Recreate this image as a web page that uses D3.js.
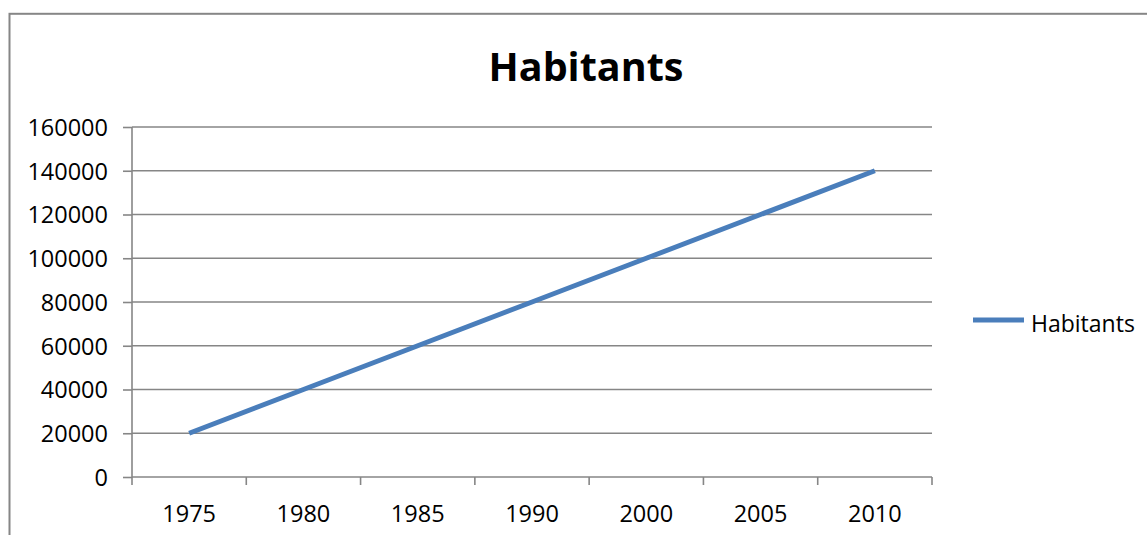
<!DOCTYPE html>
<html>
<head>
<meta charset="utf-8">
<script src="https://cdn.jsdelivr.net/npm/d3@7"></script>
<style>
  html, body { margin: 0; padding: 0; background: #fff; }
  svg { display: block; }
  text { font-family: "Open Sans", "DejaVu Sans", sans-serif; fill: #000; }
</style>
</head>
<body>
<svg id="chart" width="1147" height="535"></svg>
<script>
// Population by year
const years = ["1975", "1980", "1985", "1990", "2000", "2005", "2010"];
const habitants = [20000, 40000, 60000, 80000, 100000, 120000, 140000];
const yTicks = [0, 20000, 40000, 60000, 80000, 100000, 120000, 140000, 160000];
const seriesName = "Habitants";
const chartTitle = "Habitants";

const svg = d3.select("#chart");
const plot = { left: 132, right: 932, top: 127, bottom: 477 };
const gridColor = "#868686";
const lineColor = "#4a7ebb";

// outer chart frame (extends past the visible window on the right and bottom)
svg.append("rect")
  .attr("x", 9.5).attr("y", 13.8)
  .attr("width", 1400).attr("height", 800)
  .attr("fill", "#fff")
  .attr("stroke", gridColor).attr("stroke-width", 2);

const x = d3.scaleBand().domain(years).range([plot.left, plot.right]).paddingInner(0).paddingOuter(0);
const y = d3.scaleLinear().domain([0, 160000]).range([plot.bottom, plot.top]);

// horizontal gridlines
svg.append("g").selectAll("line").data(yTicks.filter(d => d > 0)).join("line")
  .attr("x1", plot.left).attr("x2", plot.right)
  .attr("y1", d => y(d)).attr("y2", d => y(d))
  .attr("stroke", gridColor).attr("stroke-width", 1.6);

// y axis
const yAxis = d3.axisLeft(y).tickValues(yTicks).tickSize(9).tickPadding(15).tickFormat(d3.format("d"));
const gy = svg.append("g").attr("transform", `translate(${plot.left},0)`).call(yAxis);
gy.select(".domain").remove();
gy.selectAll(".tick line").attr("stroke", gridColor).attr("stroke-width", 1.6);
gy.selectAll(".tick text").attr("font-size", 23.5).attr("dy", "0.36em").style("font-family", null);
svg.append("line")
  .attr("x1", plot.left).attr("x2", plot.left)
  .attr("y1", plot.top).attr("y2", plot.bottom)
  .attr("stroke", gridColor).attr("stroke-width", 1.6);

// x axis: category ticks sit on band boundaries, labels in band centres
const gx = svg.append("g").attr("transform", `translate(0,${plot.bottom})`);
gx.append("line")
  .attr("x1", plot.left).attr("x2", plot.right)
  .attr("stroke", gridColor).attr("stroke-width", 1.6);
const boundaries = years.map(d => x(d)).concat([x(years[years.length - 1]) + x.bandwidth()]);
gx.selectAll("line.tk").data(boundaries).join("line").attr("class", "tk")
  .attr("x1", d => d).attr("x2", d => d)
  .attr("y1", 0).attr("y2", 8)
  .attr("stroke", gridColor).attr("stroke-width", 1.6);
gx.selectAll("text").data(years).join("text")
  .attr("x", d => x(d) + x.bandwidth() / 2)
  .attr("y", 45)
  .attr("text-anchor", "middle")
  .attr("font-size", 23.5)
  .text(d => d);

// series line
const line = d3.line()
  .x((d, i) => x(years[i]) + x.bandwidth() / 2)
  .y(d => y(d));
svg.append("path")
  .datum(habitants)
  .attr("d", line)
  .attr("fill", "none")
  .attr("stroke", lineColor)
  .attr("stroke-width", 5);

// title
svg.append("text")
  .attr("x", 586).attr("y", 81)
  .attr("text-anchor", "middle")
  .attr("font-size", 39.5)
  .attr("font-weight", "bold")
  .text(chartTitle);

// legend
const lg = svg.append("g").attr("transform", "translate(973,320)");
lg.append("line").attr("x1", 0).attr("x2", 51).attr("y1", 0).attr("y2", 0)
  .attr("stroke", lineColor).attr("stroke-width", 5);
lg.append("text").attr("x", 58).attr("y", 12).attr("font-size", 23).text(seriesName);
</script>
</body>
</html>
